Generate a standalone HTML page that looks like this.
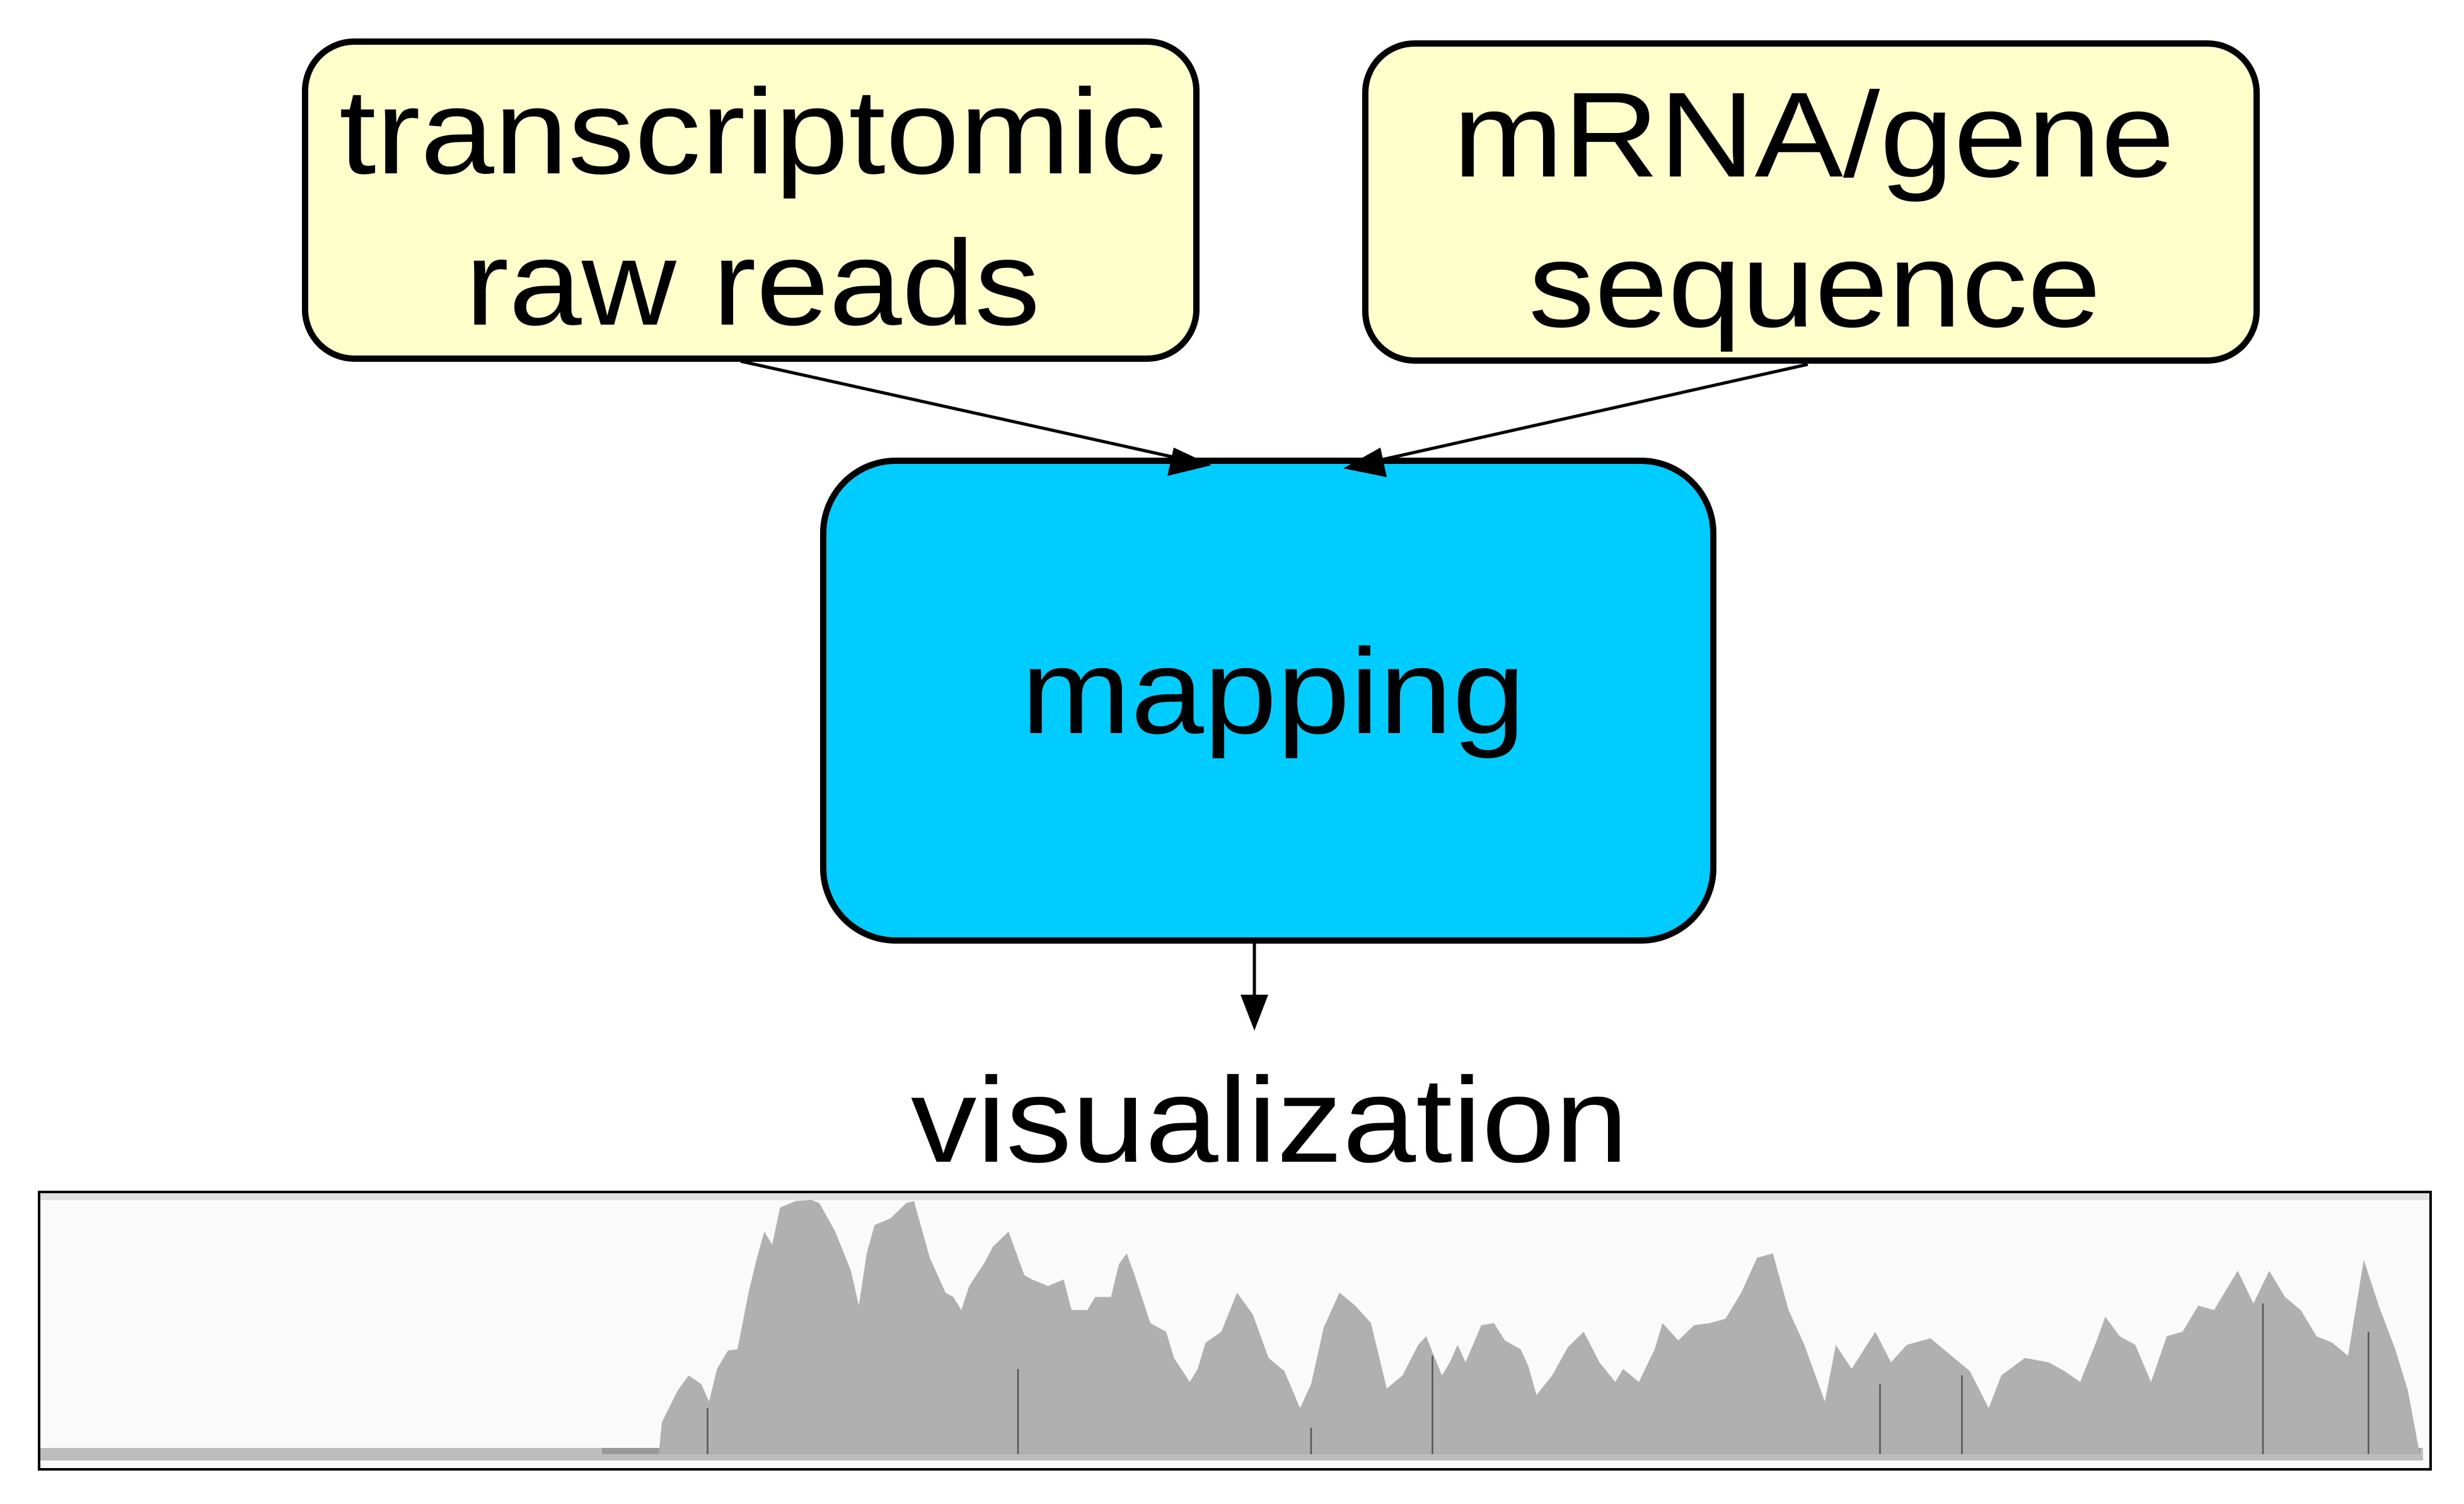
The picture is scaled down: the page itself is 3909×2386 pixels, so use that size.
<!DOCTYPE html>
<html><head><meta charset="utf-8"><style>
html,body{margin:0;padding:0;background:#fff;}
svg{display:block}
text{font-family:"Liberation Sans",Arial,sans-serif;fill:#000}
</style></head><body>
<svg width="3909" height="2386" viewBox="0 0 3909 2386" xmlns="http://www.w3.org/2000/svg">
<rect x="484" y="66" width="1414" height="503" rx="78" fill="#ffffcc" stroke="#000" stroke-width="10"/>
<rect x="2166" y="69" width="1414" height="503" rx="78" fill="#ffffcc" stroke="#000" stroke-width="10"/>
<text x="538" y="275" font-size="192" textLength="1312" lengthAdjust="spacingAndGlyphs">transcriptomic</text>
<text x="738" y="515" font-size="192" textLength="912" lengthAdjust="spacingAndGlyphs">raw reads</text>
<text x="2305" y="280" font-size="192" textLength="1145" lengthAdjust="spacingAndGlyphs">mRNA/gene</text>
<text x="2425" y="518" font-size="192" textLength="908" lengthAdjust="spacingAndGlyphs">sequence</text>
<rect x="1306" y="731" width="1412" height="761" rx="115" fill="#00ccff" stroke="#000" stroke-width="10"/>
<text x="1620" y="1163" font-size="192" textLength="800" lengthAdjust="spacingAndGlyphs">mapping</text>
<line x1="1175" y1="573" x2="1870" y2="727" stroke="#000" stroke-width="5"/>
<polygon points="1922,738 1852,755 1862,710" fill="#000"/>
<line x1="2868" y1="578" x2="2180" y2="732" stroke="#000" stroke-width="5"/>
<polygon points="2131,743 2190,710 2200,757" fill="#000"/>
<line x1="1990" y1="1493" x2="1990" y2="1585" stroke="#000" stroke-width="5"/>
<polygon points="1990,1635 1968,1578 2012,1578" fill="#000"/>
<text x="1445" y="1843" font-size="192" textLength="1138" lengthAdjust="spacingAndGlyphs">visualization</text>
<rect x="62" y="1891" width="3794" height="440" fill="#fafafa" stroke="#000" stroke-width="4"/>
<rect x="64" y="1893" width="3790" height="11" fill="#e0e0e0"/>
<rect x="64" y="2297" width="3780" height="20" fill="#bdbdbd"/>
<rect x="955" y="2297" width="2885" height="10" fill="#999"/>
<g transform="translate(0,1850) scale(2.5,0.3458)">
<polygon fill="#b0b0b0" points="418,1321 420,1175 430,1030 437,960 445,1000 450,1080 455,930 462,845 468,840 475,580 480,430 485,300 490,360 495,190 505,160 515,155 520,170 530,300 540,480 545,640 550,400 555,270 565,240 575,170 580,160 590,420 600,580 605,600 610,660 615,550 625,440 630,370 640,300 650,500 655,520 665,550 675,520 680,660 690,660 695,600 705,600 710,450 715,400 720,500 730,720 740,760 745,880 755,990 760,930 765,810 775,760 785,580 795,680 805,880 815,940 825,1110 832,1000 840,740 850,580 860,640 870,720 880,1020 890,960 900,820 905,780 910,870 915,960 920,900 925,820 930,900 940,730 948,720 955,800 965,840 970,920 975,1050 985,960 995,830 1005,760 1015,900 1025,990 1030,930 1040,990 1050,840 1055,720 1065,800 1075,730 1085,720 1095,700 1105,580 1115,420 1125,400 1135,660 1145,820 1158,1080 1165,820 1175,930 1190,760 1200,900 1210,820 1225,790 1240,880 1250,940 1262,1110 1270,960 1285,880 1300,900 1310,940 1320,990 1330,810 1336,690 1345,780 1355,820 1365,990 1375,780 1385,760 1395,640 1405,660 1420,480 1430,630 1440,480 1450,600 1460,660 1470,780 1480,810 1490,870 1500,430 1510,650 1520,840 1528,1030 1535,1300 1536,1321"/>
<g stroke="#555" stroke-width="1">
<line x1="646" y1="930" x2="646" y2="1321"/><line x1="832" y1="1200" x2="832" y2="1321"/>
<line x1="909" y1="870" x2="909" y2="1321"/><line x1="1245" y1="960" x2="1245" y2="1321"/>
<line x1="1193" y1="1000" x2="1193" y2="1321"/><line x1="1436" y1="630" x2="1436" y2="1321"/>
<line x1="1503" y1="760" x2="1503" y2="1321"/><line x1="449" y1="1110" x2="449" y2="1321"/>
</g>
</g>
</svg>
</body></html>
